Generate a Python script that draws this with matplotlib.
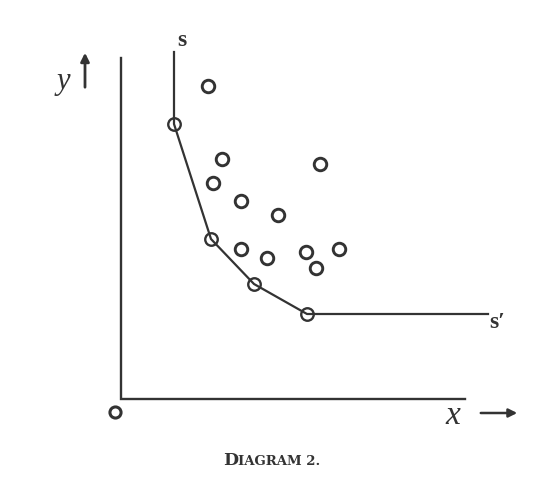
import matplotlib
matplotlib.use("Agg")
import matplotlib.pyplot as plt

# Data (origin at the axes corner, units ~ pixels)
scatter_x = [87, 101, 92, 120, 157, 199, 120, 146, 185, 218, 195]
scatter_y = [313, 240, 216, 198, 184, 235, 150, 141, 147, 150, 131]
curve_pts_x = [53, 90, 133, 186]
curve_pts_y = [275, 160, 115, 85]
curve_start = (53, 347)
curve_end = (367, 85)
axis_top = 341
axis_right = 344

ink = "#333333"
fig = plt.figure(figsize=(5.49, 4.83), dpi=100)
ax = fig.add_axes([0, 0, 1, 1])
ax.set_xlim(-121, 428)
ax.set_ylim(-84, 399)
ax.axis("off")

# axes
ax.plot([0, 0, axis_right], [axis_top, 0, 0], color=ink, lw=1.7, solid_joinstyle="miter")

# ss' curve
cx = [curve_start[0]] + curve_pts_x + [curve_end[0]]
cy = [curve_start[1]] + curve_pts_y + [curve_end[1]]
ax.plot(cx, cy, color=ink, lw=1.6)
ax.plot(curve_pts_x, curve_pts_y, "o", ms=9, mfc="none", mec=ink, mew=1.7)
ax.plot(scatter_x, scatter_y, "o", ms=9, mfc="none", mec=ink, mew=2.1)

fs = dict(family="Liberation Serif", color=ink)
ax.text(61, 359, "s", fontsize=17, ha="center", va="center", weight="bold", **fs)
ax.text(376, 77, "s\u2032", fontsize=17, ha="center", va="center", weight="bold", **fs)
ax.plot([-6], [-13], "o", ms=8, mfc="none", mec=ink, mew=2.2)
ax.text(-58, 318, "y", fontsize=22, ha="center", va="center", style="italic", **fs)
ax.text(332, -17, "x", fontsize=24, ha="center", va="center", style="italic", **fs)
ax.annotate("", xy=(-36, 349), xytext=(-36, 309),
            arrowprops=dict(arrowstyle="-|>,head_length=0.5,head_width=0.25", color=ink, lw=2))
ax.annotate("", xy=(399, -14), xytext=(357, -14),
            arrowprops=dict(arrowstyle="-|>,head_length=0.5,head_width=0.25", color=ink, lw=1.8))
cap = dict(family="DejaVu Serif", color=ink, weight="bold")
ax.text(117, -66, "D", fontsize=12.5, ha="right", va="baseline", **cap)
ax.text(117, -66, "IAGRAM 2.", fontsize=9.5, ha="left", va="baseline", **cap)

fig.savefig("out.png", dpi=100)
